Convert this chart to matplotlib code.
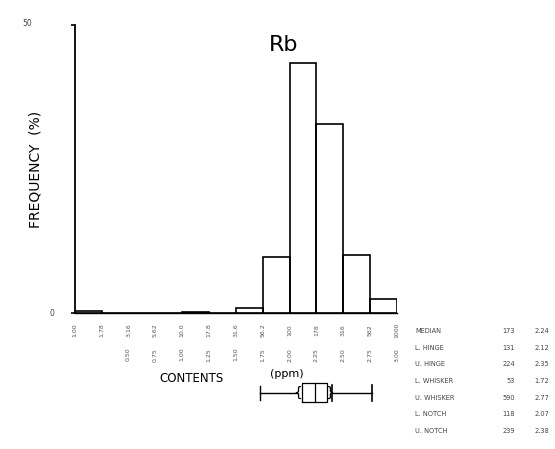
"""
Rb frequency histogram with box plot summary
"""

import matplotlib
matplotlib.use('Agg')
import matplotlib.pyplot as plt
import matplotlib.transforms as mtrans
import numpy as np


#---------------------------------------------------------------------------------------------------
# Input Parameters
#---------------------------------------------------------------------------------------------------

element = 'Rb'

# Log10 bin edges (ppm), 12 classes
log_edges = [0.0, 0.25, 0.5, 0.75, 1.0, 1.25, 1.5, 1.75, 2.0, 2.25, 2.5, 2.75, 3.0]
edge_labels = ['1.00', '1.78', '3.16', '5.62', '10.0', '17.8', '31.6', '56.2', '100', '178', '316',
               '562', '1000']
edge_labels2 = ['', '', '0.50', '0.75', '1.00', '1.25', '1.50', '1.75', '2.00', '2.25', '2.50',
                '2.75', '3.00']

# Frequency (%) in each class
freq = [0.4, 0.0, 0.0, 0.0, 0.2, 0.0, 0.9, 9.8, 43.5, 32.8, 10.1, 2.4]

# Box plot summary (ppm)
stat_names = ['MEDIAN', 'L. HINGE', 'U. HINGE', 'L. WHISKER', 'U. WHISKER', 'L. NOTCH', 'U. NOTCH']
stat_vals = [173, 131, 224, 53, 590, 118, 239]

out_fname = 'out.png'


#---------------------------------------------------------------------------------------------------
# Main Program
#---------------------------------------------------------------------------------------------------

plt.rcParams['font.family'] = ['DejaVu Sans']
fig = plt.figure(figsize=(5.55, 4.49), dpi=100)

ax = fig.add_axes([0.135, 0.303, 0.58, 0.641])
ax.bar(log_edges[:-1], freq, width=np.diff(log_edges), align='edge', fill=False,
       edgecolor='k', lw=1.2)
ax.set_xlim(log_edges[0], log_edges[-1])
ax.set_ylim(0, 50)
for s in ['top', 'right']:
    ax.spines[s].set_visible(False)
ax.spines['left'].set_linewidth(1.3)
ax.spines['bottom'].set_linewidth(1.0)

ax.set_yticks([0, 50])
ax.set_yticklabels(['0', '50'], fontsize=5.5, color='#444')
ax.tick_params(axis='y', length=3, width=1.2, pad=12)
lab50 = ax.get_yticklabels()[1]
lab50.set_transform(lab50.get_transform() +
                    mtrans.ScaledTranslation(-0.22, 0.03, fig.dpi_scale_trans))

ax.set_xticks(log_edges)
ax.set_xticklabels([])
ax.tick_params(axis='x', length=0)
trans = mtrans.blended_transform_factory(ax.transData, ax.transAxes)
for x, l1, l2 in zip(log_edges, edge_labels, edge_labels2):
    ax.text(x, -0.06, l1, transform=trans, rotation=90, ha='center', va='center',
            fontsize=4.5, color='#555')
    ax.text(x, -0.145, l2, transform=trans, rotation=90, ha='center', va='center',
            fontsize=4.5, color='#555')

ax.set_ylabel('FREQUENCY  (%)', fontsize=10)
ax.yaxis.set_label_coords(-0.1, 0.5)
ax.text(0.649, 0.965, element, transform=ax.transAxes, ha='center', va='top', fontsize=16)

# Box plot below histogram
bx = fig.add_axes([0.135, 0.095, 0.58, 0.06])
bx.set_xlim(log_edges[0], log_edges[-1])
bx.set_ylim(0, 1)
bx.axis('off')
lv = np.log10(stat_vals)
med, hlo, hhi, wlo, whi, nlo, nhi = lv
bx.plot([wlo, nlo], [0.5, 0.5], 'k-', lw=1)
bx.plot([nhi + 0.02, whi], [0.5, 0.5], 'k-', lw=1)
bx.plot([wlo, wlo], [0.25, 0.75], 'k-', lw=1)
bx.plot([whi, whi], [0.2, 0.8], 'k-', lw=1.2)
bx.plot([nhi + 0.02, nhi + 0.02], [0.2, 0.8], 'k-', lw=1.2)
bx.plot([hlo, hhi, hhi, hlo, hlo], [0.15, 0.15, 0.85, 0.85, 0.15], 'k-', lw=0.9)
bx.plot([med, med], [0.15, 0.85], 'k-', lw=0.9)
bx.text(nlo, 0.5, '{', ha='center', va='center', fontsize=10)
bx.text(nhi, 0.5, '}', ha='center', va='center', fontsize=10)

fig.text(0.288, 0.158, 'CONTENTS', fontsize=8.5, va='center')
fig.text(0.486, 0.168, '(ppm)', fontsize=8, va='center')

# Summary table
for i, (name, v) in enumerate(zip(stat_names, stat_vals)):
    y = 1 - (331 + 16.7 * i) / 449
    fig.text(0.748, y, name, fontsize=4.8, color='#444', va='center')
    fig.text(0.928, y, f'{v}', fontsize=4.8, color='#444', va='center', ha='right')
    fig.text(0.99, y, f'{np.log10(v):.2f}', fontsize=4.8, color='#444', va='center', ha='right')

plt.savefig(out_fname, dpi=100)
